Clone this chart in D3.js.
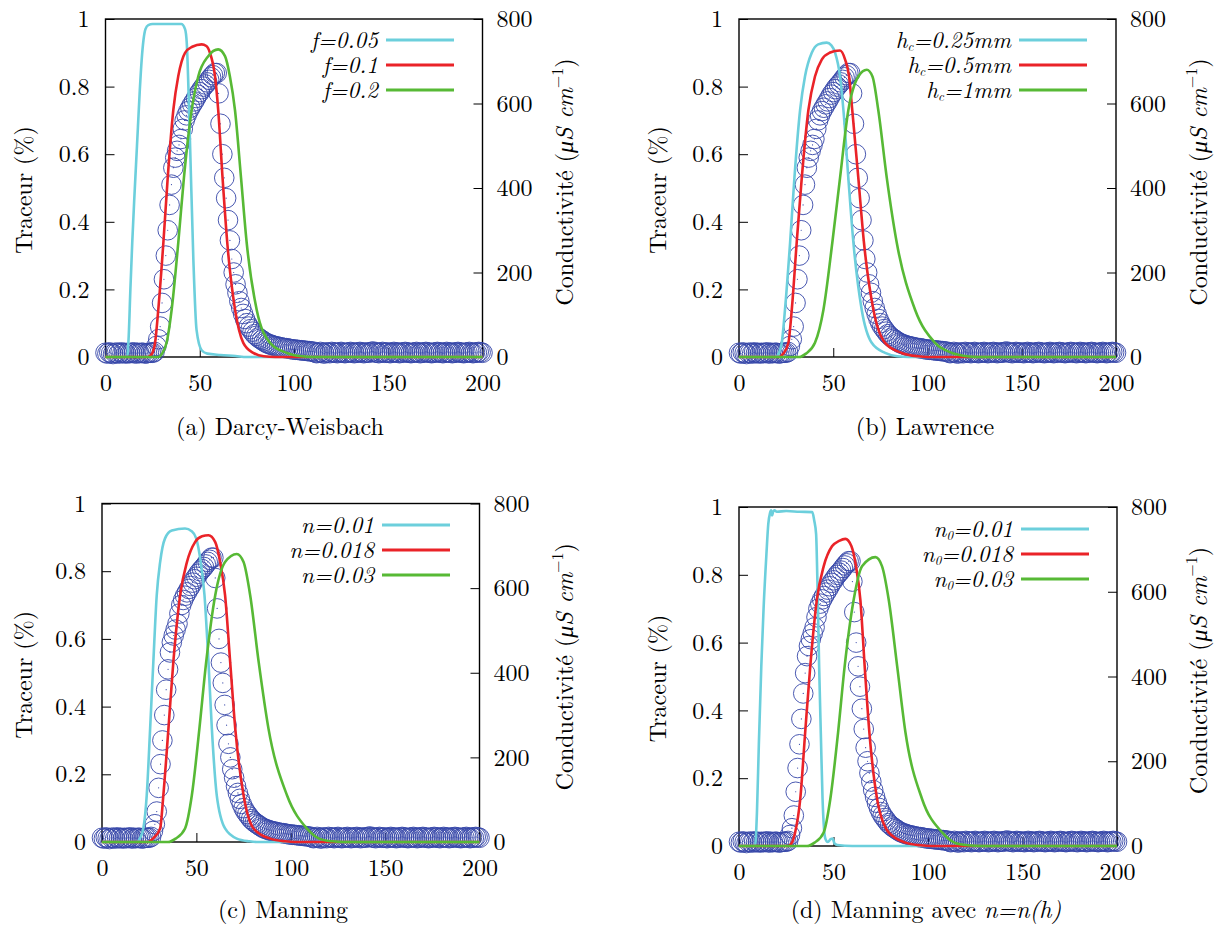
<!DOCTYPE html>
<html><head><meta charset="utf-8">
<script src="https://cdn.jsdelivr.net/npm/d3@7"></script>
<style>body{margin:0;background:#fff}</style>
</head><body>
<svg id="chart" width="1217" height="926"></svg>
<script>
// ---------------- DATA ----------------
const xTicks = [0, 50, 100, 150, 200];
const leftTicks = [0, 0.2, 0.4, 0.6, 0.8, 1];
const rightTicks = [0, 200, 400, 600, 800];

// measured conductivity (µS/cm), one sample per time unit, t = 0 .. 200
const obsStep = 1;
const obsCond = [
  10, 8, 11, 9, 7, 10, 10, 8, 11, 9,
  10, 8, 10, 9, 10, 11, 8, 10, 9, 10,
  10, 8, 9, 10, 10, 10, 12, 26, 42, 72,
  128, 184, 240, 300, 360, 408, 448, 472, 488, 502,
  516, 540, 560, 572, 582, 590, 598, 605, 613, 621,
  627, 634, 640, 645, 650, 656, 662, 667, 672, 672,
  624, 552, 480, 424, 376, 324, 276, 232, 200, 172,
  152, 132, 116, 102, 90, 80, 72, 66, 60, 54,
  50, 46, 43, 40, 37, 34, 32, 30, 29, 27,
  26, 25, 24, 23, 22, 21, 21, 20, 19, 18,
  18, 17, 17, 16, 16, 15, 15, 14, 14, 13,
  13, 11, 9, 10, 12, 10, 8, 11, 10, 9,
  12, 11, 10, 9, 11, 12, 10, 9, 10, 11,
  12, 10, 9, 11, 10, 12, 11, 9, 10, 11,
  10, 12, 13, 11, 10, 9, 11, 12, 10, 10,
  11, 9, 10, 12, 11, 10, 9, 11, 10, 12,
  11, 10, 9, 10, 11, 12, 10, 9, 11, 10,
  12, 11, 10, 9, 10, 11, 12, 10, 11, 9,
  10, 12, 11, 10, 9, 11, 10, 12, 11, 10,
  9, 10, 11, 12, 10, 9, 11, 10, 12, 11,
  10
];

// (a) Darcy-Weisbach : [t, tracer]
const dwF005 = [[0,0],[11.5,0],[12.3,0.06],[13.2,0.2],[14.2,0.34],[15.2,0.46],[16.2,0.57],[17.2,0.68],[18.2,0.79],[19.2,0.88],[20.2,0.94],[21.2,0.97],[22.7,0.982],[25,0.985],[40.2,0.985],[42.2,0.97],[43.1,0.93],[44.8,0.64],[46.6,0.29],[48.3,0.08],[51,0.02],[54,0.01],[61,0.006],[69,0.003],[75,0],[200,0]];
const dwF01 = [[0,0],[22.5,0],[24.5,0.008],[26.3,0.042],[28,0.14],[30.7,0.338],[33,0.53],[36,0.732],[38.6,0.831],[42.2,0.9],[46,0.918],[51,0.925],[53.5,0.92],[55.4,0.9],[58.1,0.83],[59.8,0.73],[62.1,0.53],[64.6,0.338],[68.7,0.141],[73.1,0.042],[78.4,0.012],[84,0.002],[90,0],[200,0]];
const dwF02 = [[0,0],[28,0],[30,0.01],[32.4,0.042],[35.1,0.14],[38.6,0.338],[41.6,0.53],[45.7,0.73],[49.2,0.83],[54.5,0.89],[59.8,0.91],[63.4,0.89],[66,0.83],[68.7,0.73],[71.9,0.53],[74.9,0.338],[80.2,0.14],[87.3,0.042],[96.2,0.012],[104,0.002],[110,0],[200,0]];

// (b) Lawrence
const lawH025 = [[0,0],[19.5,0],[21,0.01],[22.7,0.042],[24.4,0.14],[27.1,0.338],[29.4,0.53],[32.4,0.73],[35,0.83],[38.6,0.9],[42,0.925],[46.5,0.93],[49,0.922],[51,0.9],[53.6,0.83],[55.4,0.73],[58,0.53],[60.7,0.338],[65.1,0.14],[70.4,0.042],[77.5,0.012],[84,0.002],[90,0],[200,0]];
const lawH05 = [[0,0],[21.5,0],[23.5,0.01],[26.2,0.042],[28,0.14],[30.6,0.338],[33.3,0.53],[36.8,0.73],[40.3,0.83],[43.9,0.88],[48,0.9],[53.6,0.907],[56.3,0.88],[58.4,0.83],[60.1,0.73],[63.3,0.53],[66.3,0.338],[71.3,0.14],[77.5,0.042],[86.3,0.012],[95,0.002],[100,0],[200,0]];
const lawH1 = [[0,0],[32,0],[35.5,0.01],[40.3,0.042],[44.8,0.14],[49.5,0.338],[53.6,0.53],[58,0.73],[63.3,0.83],[67.8,0.85],[70.8,0.83],[73.9,0.73],[78.4,0.53],[83.7,0.338],[93.4,0.14],[104,0.042],[113,0.012],[120,0.003],[126,0],[200,0]];

// (c) Manning
const manN001 = [[0,0],[18.5,0],[20,0.01],[21.9,0.04],[23.7,0.138],[25.5,0.335],[27.2,0.532],[29,0.729],[30.8,0.827],[33.4,0.897],[37,0.92],[44,0.926],[47.5,0.918],[49.9,0.897],[52.3,0.827],[54.3,0.729],[56.4,0.532],[58.2,0.335],[60.8,0.138],[65.2,0.04],[71.4,0.01],[78,0.002],[82,0],[200,0]];
const manN0018 = [[0,0],[24.5,0],[27,0.01],[30.8,0.04],[32.5,0.138],[35.2,0.335],[37.8,0.532],[41.4,0.729],[45,0.827],[49.3,0.886],[53,0.903],[56.4,0.906],[60,0.886],[62.6,0.827],[65.2,0.729],[67.9,0.532],[70.6,0.335],[75,0.138],[80.3,0.04],[89.1,0.01],[97,0.002],[102,0],[200,0]];
const manN003 = [[0,0],[35,0],[39,0.01],[44,0.04],[47.6,0.138],[51.6,0.335],[55.2,0.532],[60,0.729],[65.2,0.827],[71.4,0.851],[75,0.827],[78.5,0.729],[83,0.532],[88.2,0.335],[98,0.138],[108.5,0.04],[115,0.01],[122,0.002],[128,0],[200,0]];

// (d) Manning with n = n(h)
const mhN001 = [[0,0],[8.5,0],[9.5,0.1],[10.5,0.3],[11.8,0.53],[13,0.7],[14.5,0.86],[15.5,0.95],[16.4,0.982],[17,0.99],[17.5,0.975],[18,0.985],[18.7,0.99],[20,0.986],[25,0.988],[32,0.986],[38.8,0.985],[39.8,0.96],[40.8,0.92],[41.6,0.75],[42.4,0.53],[43.3,0.33],[44.2,0.14],[45,0.05],[45.8,0.02],[47,0.012],[48.5,0.02],[49.5,0.022],[50.5,0.008],[52,0.003],[60,0],[200,0]];
const mhN0018 = [[0,0],[26,0],[28,0.01],[29.7,0.04],[32.4,0.138],[35,0.334],[37.7,0.53],[41.2,0.727],[44.8,0.825],[49.2,0.884],[53,0.9],[56.3,0.906],[59.5,0.884],[61.9,0.825],[64.2,0.727],[66.5,0.53],[69,0.334],[73.1,0.138],[79.2,0.04],[88.1,0.01],[96,0.002],[102,0],[200,0]];
const mhN003 = [[0,0],[36,0],[40,0.01],[44.8,0.04],[48.3,0.138],[52.4,0.334],[55.9,0.53],[60.7,0.727],[65.1,0.825],[72.2,0.852],[75.7,0.825],[79.2,0.727],[83.7,0.53],[88.1,0.334],[96.9,0.138],[107.5,0.04],[114,0.01],[121,0.002],[128,0],[200,0]];

// legend labels: [base, subscript, rest]
const dwLabels = [["f", "", "=0.05"], ["f", "", "=0.1"], ["f", "", "=0.2"]];
const lawLabels = [["h", "c", "=0.25mm"], ["h", "c", "=0.5mm"], ["h", "c", "=1mm"]];
const manLabels = [["n", "", "=0.01"], ["n", "", "=0.018"], ["n", "", "=0.03"]];
const mhLabels = [["n", "0", "=0.01"], ["n", "0", "=0.018"], ["n", "0", "=0.03"]];

// captions: [text, italic]
const captions = [
  [["(a) Darcy-Weisbach", false]],
  [["(b) Lawrence", false]],
  [["(c) Manning", false]],
  [["(d) Manning avec ", false], ["n=n(h)", true]]
];

const seriesColors = ["#6ccfdc", "#ea2328", "#57b935"];

// ---------------- LAYOUT ----------------
const FONT = '"Latin Modern Roman"';
const FS = 24;
const frames = [
  {x0: 105.5, x1: 482.5, yt: 19, yb: 357, legX: 378, legY: 40, capX: 280, capY: 435, lt: 24, rt: 565},
  {x0: 739, x1: 1116, yt: 19, yb: 357, legX: 1011, legY: 40, capX: 925, capY: 435, lt: 658, rt: 1199},
  {x0: 102, x1: 479.5, yt: 503.5, yb: 842, legX: 374, legY: 525, capX: 283, capY: 918, lt: 24, rt: 565},
  {x0: 739, x1: 1117, yt: 507, yb: 846, legX: 1013, legY: 529, capX: 926, capY: 918, lt: 658, rt: 1199}
];

const panels = [
  {series: [dwF005, dwF01, dwF02], labels: dwLabels},
  {series: [lawH025, lawH05, lawH1], labels: lawLabels},
  {series: [manN001, manN0018, manN003], labels: manLabels},
  {series: [mhN001, mhN0018, mhN003], labels: mhLabels}
];

const svg = d3.select("#chart");
svg.append("rect").attr("width", 1217).attr("height", 926).attr("fill", "#fff");

function styleAxis(g) {
  g.select(".domain").remove();
  g.attr("font-size", FS);
  g.selectAll(".tick line").attr("stroke", "#000").attr("stroke-width", 1);
  g.selectAll(".tick text").attr("fill", "#000").style("font-family", FONT).attr("font-size", FS);
}

panels.forEach((p, i) => {
  const f = frames[i];
  const x = d3.scaleLinear().domain([0, 200]).range([f.x0, f.x1]);
  const yL = d3.scaleLinear().domain([0, 1]).range([f.yb, f.yt]);
  const yR = d3.scaleLinear().domain([0, 800]).range([f.yb, f.yt]);
  const g = svg.append("g");

  // axes (ticks inward)
  g.append("g").attr("transform", `translate(${f.x0},0)`)
    .call(d3.axisLeft(yL).tickValues(leftTicks).tickFormat(d => String(d)).tickSizeInner(-9).tickSizeOuter(0).tickPadding(16))
    .call(styleAxis);
  g.append("g").attr("transform", `translate(${f.x1},0)`)
    .call(d3.axisRight(yR).tickValues(rightTicks).tickFormat(d => String(d)).tickSizeInner(-9).tickSizeOuter(0).tickPadding(14))
    .call(styleAxis);
  g.append("g").attr("transform", `translate(0,${f.yb})`)
    .call(d3.axisBottom(x).tickValues(xTicks).tickFormat(d => String(d)).tickSizeInner(-9).tickSizeOuter(0).tickPadding(17))
    .call(styleAxis);

  // border
  g.append("rect").attr("x", f.x0).attr("y", f.yt)
    .attr("width", f.x1 - f.x0).attr("height", f.yb - f.yt)
    .attr("fill", "none").attr("stroke", "#000").attr("stroke-width", 1.4);

  // observed data (right axis)
  const obs = g.append("g");
  obs.selectAll("circle.o").data(obsCond).join("circle").attr("class", "o")
    .attr("cx", (d, k) => x(k * obsStep)).attr("cy", d => yR(d)).attr("r", 9.8)
    .attr("fill", "none").attr("stroke", "#3546a8").attr("stroke-width", 0.9);
  obs.selectAll("circle.c").data(obsCond).join("circle").attr("class", "c")
    .attr("cx", (d, k) => x(k * obsStep)).attr("cy", d => yR(d)).attr("r", 0.6)
    .attr("fill", "#3546a8");

  // model curves (left axis)
  const line = d3.line().x(d => x(d[0])).y(d => yL(d[1])).curve(d3.curveMonotoneX);
  p.series.forEach((s, j) => {
    g.append("path").attr("d", line(s)).attr("fill", "none")
      .attr("stroke", seriesColors[j]).attr("stroke-width", 2.6)
      .attr("stroke-linejoin", "round");
  });

  // legend
  p.labels.forEach((lab, j) => {
    const ly = f.legY + j * 25;
    const t = g.append("text").attr("x", f.legX).attr("y", ly).attr("dy", "0.33em")
      .attr("text-anchor", "end").style("font-family", FONT).attr("font-size", 23)
      .attr("font-style", "italic").attr("fill", "#000");
    t.append("tspan").text(lab[0]);
    if (lab[1]) {
      t.append("tspan").attr("font-size", 13).attr("dy", 3).text(lab[1]);
      t.append("tspan").attr("dy", -3).text(lab[2]);
    } else {
      t.append("tspan").text(lab[2]);
    }
    g.append("line").attr("x1", f.legX + 8).attr("x2", f.legX + 76)
      .attr("y1", ly).attr("y2", ly)
      .attr("stroke", seriesColors[j]).attr("stroke-width", 2.8);
  });

  // axis titles
  const cy = (f.yt + f.yb) / 2;
  g.append("text").attr("transform", `translate(${f.lt},${cy + 2}) rotate(-90)`)
    .attr("dy", "0.35em").attr("text-anchor", "middle")
    .style("font-family", FONT).attr("font-size", FS).attr("fill", "#000")
    .text("Traceur (%)");
  const rt = g.append("text").attr("transform", `translate(${f.rt},${cy - 6}) rotate(-90)`)
    .attr("dy", "0.35em").attr("text-anchor", "middle")
    .style("font-family", FONT).attr("font-size", FS).attr("fill", "#000");
  rt.append("tspan").text("Conductivité (");
  rt.append("tspan").attr("font-style", "italic").text("μS cm");
  rt.append("tspan").attr("font-size", 16).attr("dy", -10).text("−1");
  rt.append("tspan").attr("dy", 10).text(")");

  // caption
  const cap = g.append("text").attr("x", f.capX).attr("y", f.capY)
    .attr("text-anchor", "middle").style("font-family", FONT).attr("font-size", FS).attr("fill", "#000");
  captions[i].forEach(part => {
    cap.append("tspan").attr("font-style", part[1] ? "italic" : "normal").text(part[0]);
  });
});
</script>
</body></html>
